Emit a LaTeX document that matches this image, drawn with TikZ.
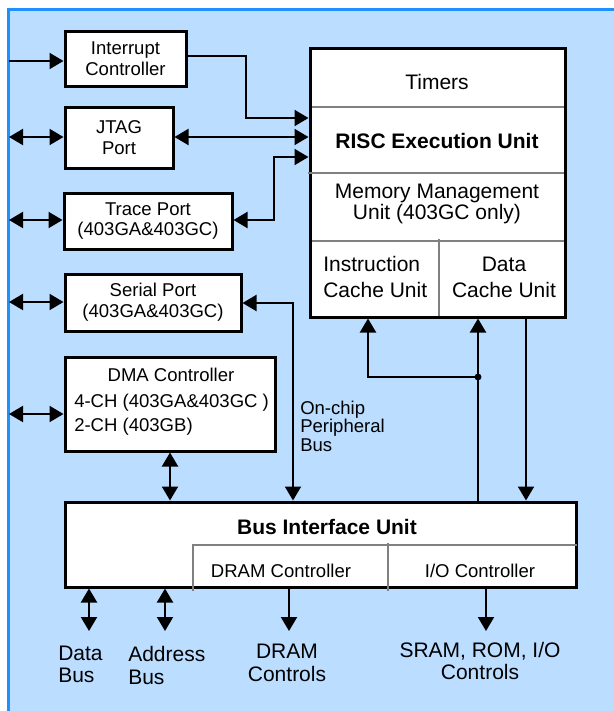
\documentclass[tikz,border=0pt]{standalone}
\usepackage{fontspec}
\setmainfont{Liberation Sans}
\usepackage{tikz}
\usetikzlibrary{arrows.meta}
\usetikzlibrary{positioning}
\definecolor{panel}{RGB}{187,221,255}
\definecolor{rim}{RGB}{30,144,255}
\newcommand{\blkfont}{\fontsize{13.9}{15.5}\selectfont}
\newcommand{\lblfont}{\fontsize{15.75}{17}\selectfont}
\tikzset{>={Triangle[length=10.5pt,width=12pt]},
  blk/.style={draw,line width=2.25pt,fill=white,inner sep=0pt,align=center,font=\blkfont},
  wire/.style={line width=1.5pt},
  divider/.style={line width=2pt,color=gray},
  lbl/.style={inner sep=0pt,align=center,font=\lblfont},
  sml/.style={inner sep=0pt,align=center,font=\blkfont}}

\begin{document}
\begin{tikzpicture}[x=0.75pt,y=-0.75pt,line cap=butt]

  \useasboundingbox (0,0) rectangle (614,711);
  \fill [panel] (7,9) rectangle (614,711);
  \draw [rim,line width=2.25pt] (8.5,711) -- (8.5,9.5) -- (614,9.5);

  % blocks
  \node [blk,minimum width=90.75pt,minimum height=41.25pt] (intc) at (125.5,58.5) {Interrupt\\Controller};
  \node [blk,minimum width=81pt,minimum height=45.75pt] (jtag) at (119,137.5) {JTAG\\Port};
  \node [blk,minimum width=126pt,minimum height=42pt] (trace) at (148,221) {Trace Port\\(403GA\&403GC)};
  \node [blk,minimum width=132pt,minimum height=42.75pt] (serial) at (153,302.5) {Serial Port\\(403GA\&403GC)};
  \node [blk,minimum width=157.5pt,minimum height=70.5pt] (dma) at (170,404) {};
  \node [blk,minimum width=191.25pt,minimum height=201.75pt] (core) at (437.5,182.5) {};
  \node [blk,minimum width=383.25pt,minimum height=63.75pt] (biu) at (320.5,544.5) {};

  \draw [divider] (311.5,107) -- (563.5,107);
  \draw [divider] (308,173) -- (563.5,173);
  \draw [divider] (311.5,241) -- (563.5,241);
  \draw [divider] (439,239) -- (439,315.5);

  \draw [divider] (193,545) -- (577,545);
  \draw [divider] (193,544) -- (193,591);
  \draw [divider] (388,543) -- (388,591);

  % texts
  \node [sml] (dmat) at (171,375) {DMA Controller};
  \node [sml,anchor=west] (dmaa) at (74,403) {4-CH (403GA\&403GC )};
  \node [sml,anchor=west] (dmab) at (74,427) {2-CH (403GB)};

  \node [lbl] (timers) at (437,82) {Timers};
  \node [lbl,font=\lblfont\bfseries] (risc) at (437,141) {RISC Execution Unit};
  \node [lbl,font=\fontsize{15.75}{15.75}\selectfont] (mmu) at (437,203.5) {Memory Management\\Unit (403GC only)};
  \node [lbl,anchor=west,align=left,font=\fontsize{15.75}{19.5}\selectfont] (icu) at (323,277) {Instruction\\Cache Unit};
  \node [lbl,font=\fontsize{15.75}{19.5}\selectfont] (dcu) at (504,277) {Data\\Cache Unit};

  \node [lbl,font=\lblfont\bfseries] (biut) at (327,527) {Bus Interface Unit};
  \node [sml] (dramc) at (281,571) {DRAM Controller};
  \node [sml] (ioc) at (480,571) {I/O Controller};

  \node [sml,anchor=west,align=left,font=\fontsize{13.9}{13.9}\selectfont] (opb) at (300,426) {On-chip\\Peripheral\\Bus};

  \node [lbl,anchor=west,align=left] (dbust) at (58,664.5) {Data\\Bus};
  \node [lbl,anchor=west,align=left] (abust) at (128,665.5) {Address\\Bus};
  \node [lbl] (dramt) at (287,663) {DRAM\\Controls};
  \node [lbl] (iot) at (480,661) {SRAM, ROM, I/O\\Controls};

  % free ends
  \coordinate (intin) at (9,61);
  \coordinate (jtagio) at (9,137);
  \coordinate (traceio) at (9,220);
  \coordinate (serialio) at (9,302);
  \coordinate (dmaio) at (9,414);
  \coordinate (split) at (478,377);
  \coordinate (dbus) at (89,631);
  \coordinate (abus) at (165,631);
  \coordinate (dramout) at (289,631);
  \coordinate (ioout) at (486,631);

  % connectors
  \draw [wire,->] (intin) -- (intin -| intc.west);
  \draw [wire,<->] (jtagio) -- (jtagio -| jtag.west);
  \draw [wire,<->] (traceio) -- (traceio -| trace.west);
  \draw [wire,<->] (serialio) -- (serialio -| serial.west);
  \draw [wire,<->] (dmaio) -- (dmaio -| dma.west);

  \draw [wire,->] (intc.east |- 0,56) -- (246,56) -- (246,118) -- (core.west |- 0,118);
  \draw [wire,<->] (jtag.east |- 0,137) -- (core.west |- 0,137);
  \draw [wire,<->] (trace.east |- 0,220) -- (274,220) -- (274,157) -- (core.west |- 0,157);
  \draw [wire,<->] (serial.east |- 0,303) -- (293,303) -- (biu.north -| 293,0);
  \draw [wire,<->] (dma.south) -- (dma.south |- biu.north);

  \draw [wire,->] (split) -- (split -| 368,0) -- (core.south -| 368,0);
  \draw [wire,->] (biu.north -| split) -- (core.south -| split);
  \fill (split) circle (2.6pt);
  \draw [wire,->] (core.south -| 526,0) -- (biu.north -| 526,0);

  \draw [wire,<->] (biu.south -| dbus) -- (dbus);
  \draw [wire,<->] (biu.south -| abus) -- (abus);
  \draw [wire,->] (biu.south -| dramout) -- (dramout);
  \draw [wire,->] (biu.south -| ioout) -- (ioout);

\end{tikzpicture}
\end{document}
